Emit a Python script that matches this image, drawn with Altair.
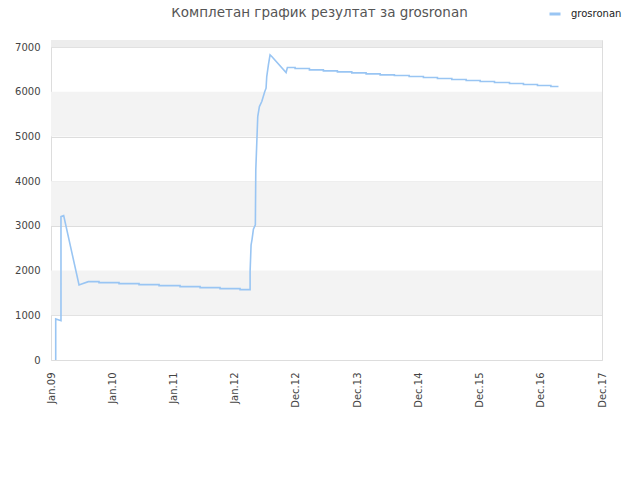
import altair as alt
import pandas as pd

# ---- data ----
title_text = "Комплетан график резултат за grosronan"
series_name = "grosronan"
tick_labels = ["Jan.09", "Jan.10", "Jan.11", "Jan.12", "Dec.12",
               "Dec.13", "Dec.14", "Dec.15", "Dec.16", "Dec.17"]

# initial jump and decline
seg1_x = [0.077, 0.077, 0.163, 0.163, 0.207, 0.458, 0.50, 0.61]
seg1_v = [0, 918, 880, 3208, 3230, 1679, 1700, 1753]

# slow staircase decline
steps1_x = [0.61, 0.784, 1.111, 1.438, 1.765, 2.108, 2.435, 2.761, 3.088]
steps1_v = [1753, 1731, 1709, 1686, 1664, 1642, 1619, 1597, 1574]
steps1_end = 3.252

# big rise
seg2_x = [3.252, 3.268, 3.284, 3.306, 3.338, 3.345, 3.361, 3.377, 3.404,
          3.443, 3.492, 3.513, 3.524, 3.551, 3.578, 3.606, 3.840, 3.861]
seg2_v = [1977, 2574, 2701, 2925, 3022, 4253, 4851, 5447, 5671,
          5783, 6007, 6082, 6342, 6604, 6828, 6790, 6432, 6544]

# second staircase decline
steps2_x = [3.861, 3.987, 4.221, 4.449, 4.678, 4.913, 5.147, 5.376, 5.609,
            5.850, 6.083, 6.312, 6.547, 6.781, 7.010, 7.244, 7.489, 7.717,
            7.946, 8.165]
steps2_v = [6544, 6522, 6492, 6470, 6447, 6425, 6403, 6380, 6365,
            6343, 6320, 6298, 6276, 6253, 6231, 6208, 6186, 6164,
            6141, 6119]
steps2_end = 8.289

band_start = [1000, 3000, 5000]
band_end = [2000, 4000, 6000]
top_band_start = [7000]
top_band_end = [7160]
y_max = 7160


def expand_steps(xs, vs, end):
    out_x, out_v = [], []
    nxt = xs[1:] + [end]
    for a, b, v in zip(xs, nxt, vs):
        out_x += [a, b]
        out_v += [v, v]
    return out_x, out_v


s1x, s1v = expand_steps(steps1_x, steps1_v, steps1_end)
s2x, s2v = expand_steps(steps2_x, steps2_v, steps2_end)
all_x = seg1_x + s1x + seg2_x + s2x
all_v = seg1_v + s1v + seg2_v + s2v

line_df = pd.DataFrame({"x": all_x, "v": all_v,
                        "i": list(range(len(all_x))),
                        "series": series_name})
bands_df = pd.DataFrame({"y0": band_start, "y1": band_end})
top_df = pd.DataFrame({"y0": top_band_start, "y1": top_band_end})
title_df = pd.DataFrame({"t": [title_text]})

FONT = "DejaVu Sans"
label_expr = "[" + ",".join("'%s'" % t for t in tick_labels) + "][datum.value]"

xscale = alt.Scale(domain=[0, 9], nice=False, zero=False)
yscale = alt.Scale(domain=[0, y_max], nice=False, zero=True)

bands = alt.Chart(bands_df).mark_rect(color="#f3f3f3").encode(
    x=alt.value(0), x2=alt.value(551),
    y=alt.Y("y0:Q", scale=yscale), y2="y1:Q")

top_band = alt.Chart(top_df).mark_rect(color="#ededed").encode(
    x=alt.value(0), x2=alt.value(551),
    y=alt.Y("y0:Q", scale=yscale), y2="y1:Q")

title = alt.Chart(title_df).mark_text(
    font=FONT, fontSize=13.5, color="#555", align="center",
    baseline="alphabetic").encode(
    text="t:N", x=alt.value(268.5), y=alt.value(-22.7))

line = alt.Chart(line_df).mark_line(strokeWidth=1.6, interpolate="linear").encode(
    x=alt.X("x:Q", scale=xscale,
            axis=alt.Axis(values=list(range(10)), labelExpr=label_expr,
                          labelAngle=270, ticks=False, domain=False,
                          grid=False, labelPadding=12, labelFont=FONT,
                          labelFontSize=10, labelColor="#444", title=None)),
    y=alt.Y("v:Q", scale=yscale,
            axis=alt.Axis(values=[0, 1000, 2000, 3000, 4000, 5000, 6000, 7000],
                          format="d", ticks=False, domain=False, grid=True,
                          gridColor="#dddddd", labelPadding=11,
                          labelFont=FONT, labelFontSize=10,
                          labelColor="#444", title=None)),
    order="i:Q",
    color=alt.Color("series:N",
                    scale=alt.Scale(range=["#99c5f3"]),
                    legend=alt.Legend(title=None, orient="none",
                                      legendX=497, legendY=-33,
                                      symbolType="stroke",
                                      symbolStrokeWidth=3, symbolSize=121,
                                      labelFont=FONT, labelFontSize=10,
                                      labelColor="#222", labelOffset=9)),
)

chart = alt.layer(bands, top_band, line, title).properties(
    width=551, height=320,
    autosize=alt.AutoSizeParams(type="none"),
    padding={"left": 43, "top": 32, "right": 30, "bottom": 100},
).configure_view(stroke="#dddddd")

chart.save("out.html", embed_options={"renderer": "svg", "actions": False})
